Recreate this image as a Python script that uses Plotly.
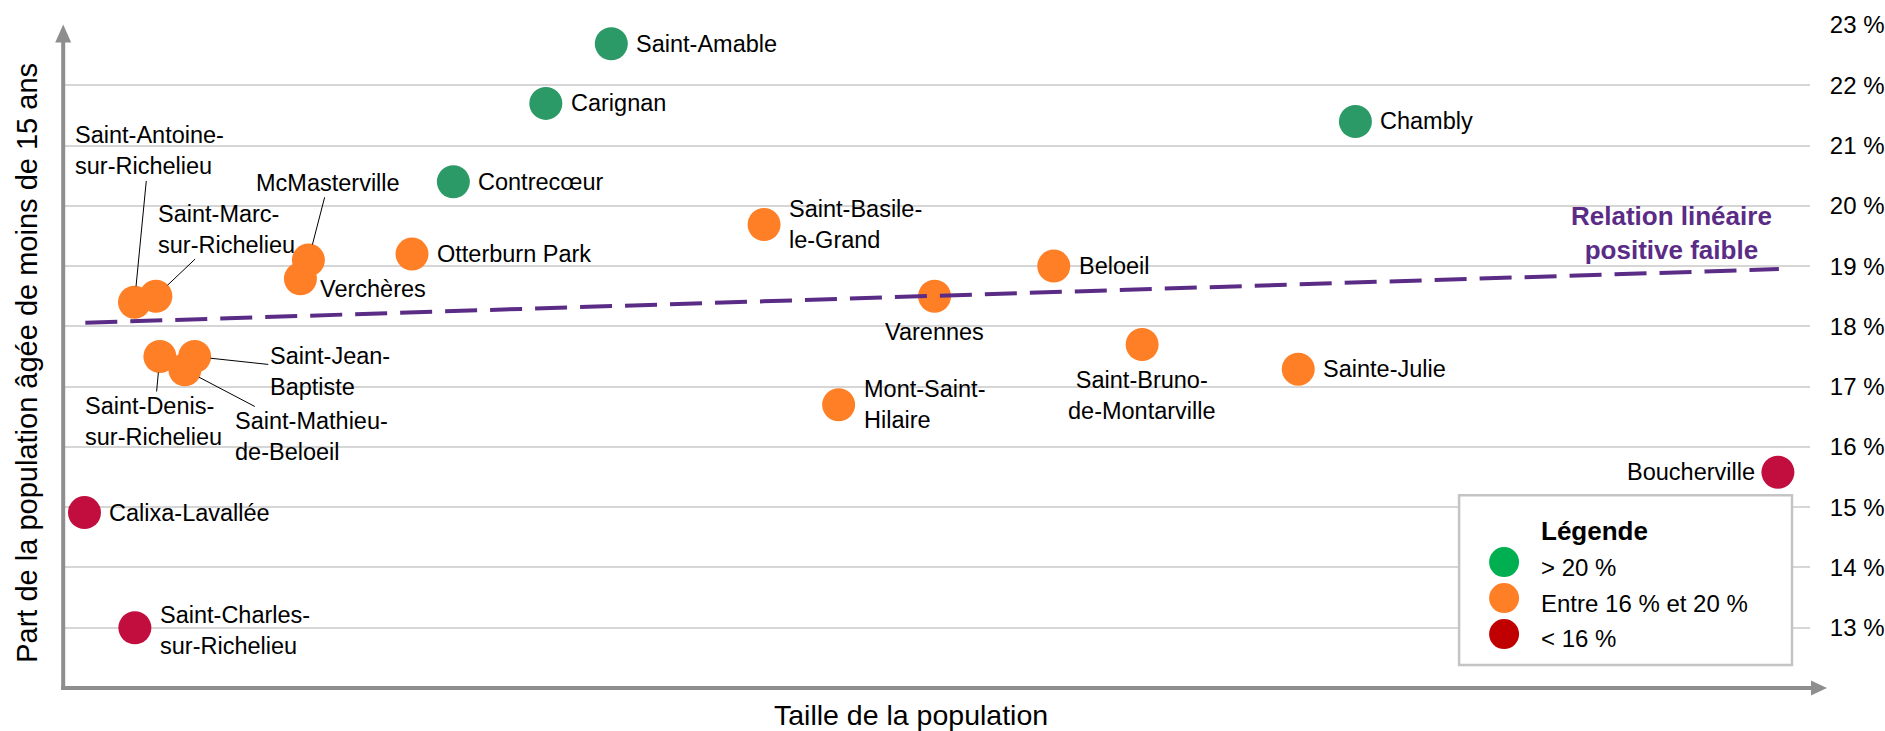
import plotly.graph_objects as go

# ---------------- data ----------------
communes = [
    "Calixa-Lavallée", "Saint-Charles-sur-Richelieu", "Saint-Antoine-sur-Richelieu",
    "Saint-Marc-sur-Richelieu", "Saint-Denis-sur-Richelieu", "Saint-Mathieu-de-Beloeil",
    "Saint-Jean-Baptiste", "McMasterville", "Verchères", "Otterburn Park", "Contrecœur",
    "Carignan", "Saint-Amable", "Saint-Basile-le-Grand", "Mont-Saint-Hilaire", "Varennes",
    "Beloeil", "Saint-Bruno-de-Montarville", "Sainte-Julie", "Chambly", "Boucherville",
]
population = [
    522, 1746, 1737, 2257, 2354, 2961, 3199, 5963, 5769, 8480, 9485,
    11732, 13323, 17035, 18847, 21178, 24074, 26221, 30015, 31404, 41670,
]
part_moins_15 = [
    14.91, 13.00, 18.40, 18.50, 17.50, 17.28, 17.50, 19.10, 18.79, 19.20, 20.40,
    21.70, 22.69, 19.69, 16.70, 18.50, 19.00, 17.70, 17.29, 21.40, 15.58,
]
categorie = [
    "<16", "<16", "16-20", "16-20", "16-20", "16-20", "16-20", "16-20", "16-20", "16-20", ">20",
    ">20", ">20", "16-20", "16-20", "16-20", "16-20", "16-20", "16-20", ">20", "<16",
]
# label text (line breaks as in the original)
etiquettes = [
    "Calixa-Lavallée", "Saint-Charles-<br>sur-Richelieu", "Saint-Antoine-<br>sur-Richelieu",
    "Saint-Marc-<br>sur-Richelieu", "Saint-Denis-<br>sur-Richelieu", "Saint-Mathieu-<br>de-Beloeil",
    "Saint-Jean-<br>Baptiste", "McMasterville", "Verchères", "Otterburn Park", "Contrecœur",
    "Carignan", "Saint-Amable", "Saint-Basile-<br>le-Grand", "Mont-Saint-<br>Hilaire", "Varennes",
    "Beloeil", "Saint-Bruno-<br>de-Montarville", "Sainte-Julie", "Chambly", "Boucherville",
]
tendance_x = [542, 41694]
tendance_y = [18.06, 18.95]

y_ticks = [13, 14, 15, 16, 17, 18, 19, 20, 21, 22, 23]
y_tick_labels = ["13 %", "14 %", "15 %", "16 %", "17 %", "18 %", "19 %", "20 %", "21 %", "22 %", "23 %"]
legende_textes = ["> 20 %", "Entre 16 % et 20 %", "< 16 %"]

# ---------------- style ----------------
FONT = "Liberation Sans, Arial, sans-serif"
couleurs_points = {">20": "#2B9A66", "16-20": "#FF7F27", "<16": "#C20E3E"}
couleurs_legende = ["#00B050", "#FF7F27", "#C00000"]
PURPLE = "#5B2C86"
AXIS_GREY = "#8E8E8E"

W_FIG, H_FIG = 1885, 731
L, T = 62.5, 24.5
PW, PH = 1747.5, 663.5

def px(x):
    return (x - L) / PW

def py(y):
    return (T + PH - y) / PH

fig = go.Figure()

fig.add_trace(go.Scatter(
    x=population, y=part_moins_15, mode="markers",
    marker=dict(size=33, color=[couleurs_points[c] for c in categorie], line=dict(width=0)),
    hovertext=communes, hoverinfo="text", showlegend=False,
))

fig.add_trace(go.Scatter(
    x=tendance_x, y=tendance_y, mode="lines",
    line=dict(color=PURPLE, width=4, dash="32px,13px"),
    hoverinfo="skip", showlegend=False,
))

# label placement: (mode, params)
placement = {
    "Calixa-Lavallée": ("right", 0),
    "Saint-Charles-sur-Richelieu": ("right", -3),
    "Saint-Antoine-sur-Richelieu": ("arrow", (14.7, -151.3)),
    "Saint-Marc-sur-Richelieu": ("arrow", (70.9, -67.2)),
    "Saint-Denis-sur-Richelieu": ("arrow", (-6.1, 65)),
    "Saint-Mathieu-de-Beloeil": ("arrow", (127.1, 66.7)),
    "Saint-Jean-Baptiste": ("arrow", (135.1, 14.5)),
    "McMasterville": ("arrow", (20, -77.3)),
    "Verchères": ("right", -10.6),
    "Otterburn Park": ("right", 0),
    "Contrecœur": ("right", 0),
    "Carignan": ("right", 0),
    "Saint-Amable": ("right", 0),
    "Saint-Basile-le-Grand": ("right", 0),
    "Mont-Saint-Hilaire": ("right", 0),
    "Varennes": ("below", -36),
    "Beloeil": ("right", 0),
    "Saint-Bruno-de-Montarville": ("below", -51),
    "Sainte-Julie": ("right", 0),
    "Chambly": ("right", 0),
    "Boucherville": ("left", 0),
}

annotations = []
lab_font = dict(family=FONT, size=23.5, color="#000000")
for name, xv, yv, txt in zip(communes, population, part_moins_15, etiquettes):
    mode, p = placement[name]
    base = dict(x=xv, y=yv, xref="x", yref="y", text=txt, font=lab_font, align="left")
    if mode == "right":
        base.update(showarrow=False, xanchor="left", yanchor="middle", xshift=23, yshift=p)
        if name == "Verchères":
            base.update(xshift=18)
    elif mode == "left":
        base.update(showarrow=False, xanchor="right", yanchor="middle", xshift=-21)
    elif mode == "below":
        base.update(showarrow=False, xanchor="center", yanchor="middle", yshift=p, align="center")
    else:
        base.update(showarrow=True, ax=p[0], ay=p[1], arrowhead=0, arrowwidth=1,
                    arrowcolor="#000000", standoff=16)
    annotations.append(base)

# trend label
annotations.append(dict(
    x=px(1671), y=py(233), xref="paper", yref="paper", showarrow=False,
    text="<b>Relation linéaire<br>positive faible</b>", align="center",
    font=dict(family=FONT, size=26, color=PURPLE), xanchor="center", yanchor="middle",
))

# axis titles
annotations.append(dict(
    x=px(911), y=py(715), xref="paper", yref="paper", showarrow=False,
    text="Taille de la population", font=dict(family=FONT, size=28.5, color="#000000"),
    xanchor="center", yanchor="middle",
))
annotations.append(dict(
    x=px(27), y=py(363), xref="paper", yref="paper", showarrow=False, textangle=-90,
    text="Part de la population âgée de moins de 15 ans",
    font=dict(family=FONT, size=29, color="#000000"), xanchor="center", yanchor="middle",
))

# legend texts
annotations.append(dict(
    x=px(1539), y=py(531), xref="paper", yref="paper", showarrow=False,
    text="<b>Légende</b>", font=dict(family=FONT, size=26, color="#000000"),
    xanchor="left", yanchor="middle",
))
for txt, yc in zip(legende_textes, [567, 603, 638]):
    annotations.append(dict(
        x=px(1539), y=py(yc), xref="paper", yref="paper", showarrow=False,
        text=txt, font=dict(family=FONT, size=24, color="#000000"),
        xanchor="left", yanchor="middle",
    ))

shapes = []
# y axis with arrow
shapes.append(dict(type="line", xref="paper", yref="paper", x0=px(62.7), x1=px(62.7),
                   y0=py(690), y1=py(40), line=dict(color=AXIS_GREY, width=4), layer="above"))
shapes.append(dict(type="path", xref="paper", yref="paper",
                   path=f"M {px(54.7)},{py(42)} L {px(62.7)},{py(24)} L {px(70.7)},{py(42)} Z",
                   fillcolor=AXIS_GREY, line=dict(width=0), layer="above"))
# x axis with arrow
shapes.append(dict(type="line", xref="paper", yref="paper", x0=px(60.7), x1=px(1813),
                   y0=py(688), y1=py(688), line=dict(color=AXIS_GREY, width=4), layer="above"))
shapes.append(dict(type="path", xref="paper", yref="paper",
                   path=f"M {px(1811)},{py(680.5)} L {px(1827)},{py(688)} L {px(1811)},{py(695.5)} Z",
                   fillcolor=AXIS_GREY, line=dict(width=0), layer="above"))
# legend box
shapes.append(dict(type="rect", xref="paper", yref="paper", x0=px(1459), x1=px(1792),
                   y0=py(665), y1=py(495), fillcolor="#FFFFFF",
                   line=dict(color="#C4C4C4", width=2.5), layer="above"))
for col, yc in zip(couleurs_legende, [562, 598, 634]):
    shapes.append(dict(type="circle", xref="paper", yref="paper",
                       x0=px(1504 - 15), x1=px(1504 + 15), y0=py(yc + 15), y1=py(yc - 15),
                       fillcolor=col, line=dict(width=0), layer="above"))

fig.update_layout(
    width=W_FIG, height=H_FIG,
    margin=dict(l=L, r=W_FIG - L - PW, t=T, b=H_FIG - T - PH, pad=0),
    paper_bgcolor="#FFFFFF", plot_bgcolor="#FFFFFF",
    font=dict(family=FONT, size=24, color="#000000"),
    showlegend=False,
    xaxis=dict(range=[0, 42450], showgrid=False, zeroline=False, showline=False,
               showticklabels=False, ticks=""),
    yaxis=dict(range=[12, 23.0005], side="right", tickmode="array", tickvals=y_ticks,
               ticktext=y_tick_labels,
               showgrid=True, gridcolor="#D6D6D6", gridwidth=1.5, zeroline=False,
               showline=False, ticks="outside", ticklen=14, tickcolor="rgba(0,0,0,0)",
               automargin=False,
               tickfont=dict(family=FONT, size=24, color="#000000")),
    annotations=annotations, shapes=shapes,
)

fig.write_html("out.html", config={"displayModeBar": False},
               post_script="document.body.style.margin='0';document.body.style.overflow='hidden';")
